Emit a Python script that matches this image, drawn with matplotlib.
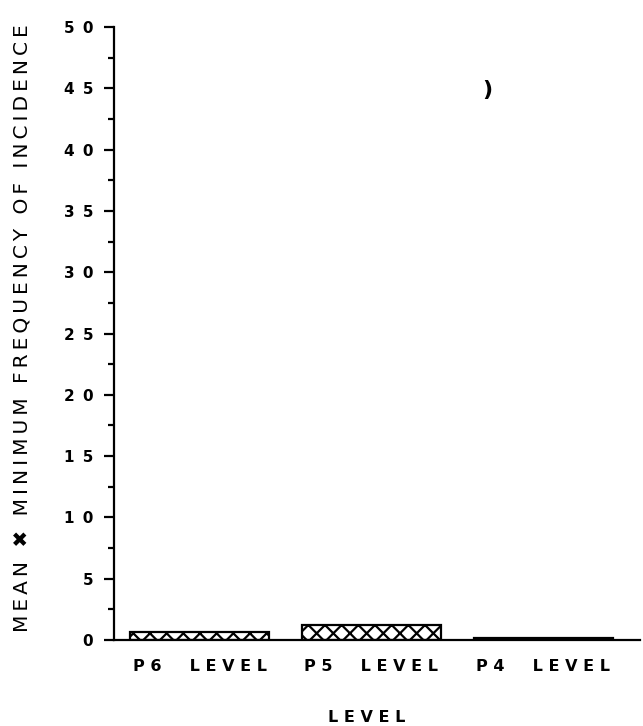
import matplotlib
matplotlib.use("Agg")
import matplotlib.pyplot as plt
import numpy as np

plt.rcParams['hatch.linewidth'] = 1.6

categories = ["P6 LEVEL", "P5 LEVEL", "P4 LEVEL"]
values = [0.67, 1.23, 0.15]
hatches = ["xx", "xx", ""]
y_ticks = [0, 5, 10, 15, 20, 25, 30, 35, 40, 45, 50]
y_title = "MEAN \u2716 MINIMUM FREQUENCY OF INCIDENCE"
x_title = "LEVEL"


def spaced(s, gap=" "):
    # wide letter spacing as on the plotter output
    return gap.join(s.replace(" ", "  "))


def tracked(s, gap="\u2009"):
    # slight letter spacing, word gaps kept single
    return gap.join(s)


fig = plt.figure(figsize=(6.43, 7.26), dpi=100)
ax = fig.add_axes([114 / 643, 1 - 640 / 726, (640 - 114) / 643, (640 - 27) / 726])

x = np.arange(len(categories))
bars = ax.bar(x, values, width=0.81, color="white", edgecolor="black",
              linewidth=1.6)
for b, h in zip(bars, hatches):
    b.set_hatch(h)
    if h == "":
        b.set_facecolor("black")

ax.set_ylim(0, 50)
ax.set_xlim(-0.5, 2.565)
ax.set_yticks(y_ticks)
ax.set_yticklabels([spaced(str(v), " \u2009") for v in y_ticks], fontsize=11,
                   fontweight="bold", family="DejaVu Sans")
ax.set_yticks(np.arange(2.5, 50, 5), minor=True)
ax.tick_params(axis="y", which="major", direction="out", length=7,
               width=1.6, pad=8)
ax.tick_params(axis="y", which="minor", direction="out", length=4.5,
               width=1.6)

ax.set_xticks(x)
ax.set_xticklabels([spaced(c) for c in categories], fontsize=11.5,
                   fontweight="bold", family="DejaVu Sans")
ax.tick_params(axis="x", which="both", length=0, pad=14)

for s in ["top", "right"]:
    ax.spines[s].set_visible(False)
for s in ["left", "bottom"]:
    ax.spines[s].set_linewidth(1.6)

ax.set_xlabel(spaced(x_title), fontsize=11.5, fontweight="bold", labelpad=24)
ax.xaxis.set_label_coords((367 - 114) / (640 - 114), -0.115)
fig.text(22 / 643, 1 - 328 / 726, tracked(y_title),
         rotation=90, ha="center", va="center", fontsize=14.5,
         family="DejaVu Sans")

fig.text(487 / 643, 1 - 90 / 726, ")", fontsize=16, fontweight="bold",
         ha="center", va="center")

fig.savefig("out.png", dpi=100)
